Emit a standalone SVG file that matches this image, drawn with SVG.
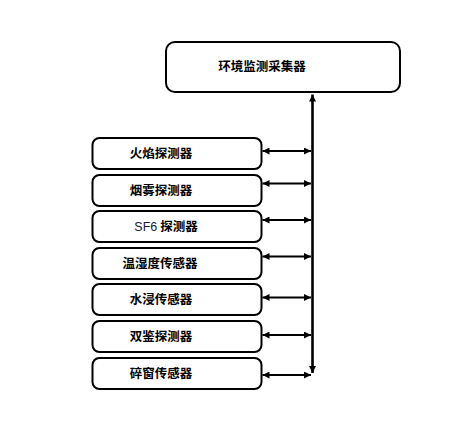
<svg xmlns="http://www.w3.org/2000/svg" width="466" height="432" viewBox="0 0 466 432">
<style>
.box{fill:#fff;stroke:#000;stroke-width:2}
.t{font-family:"Noto Sans CJK SC","Liberation Sans",sans-serif;font-size:12.5px;font-weight:bold;fill:#000;text-anchor:middle}
.c{stroke:#000;stroke-width:2;fill:none}
.v{stroke:#000;stroke-width:2.6;fill:none}
</style>
<defs>
<marker id="ah" viewBox="0 0 10 10" refX="10" refY="5" markerWidth="9" markerHeight="7" markerUnits="userSpaceOnUse" orient="auto-start-reverse">
<path d="M0,0 L10,5 L0,10 z" fill="#000"/>
</marker>
</defs>
<rect width="466" height="432" fill="#fff"/>
<g id="collector"><rect class="box" x="166" y="42" width="234" height="50" rx="9"/><text class="t" x="262" y="71">环境监测采集器</text></g>
<g id="n1"><rect class="box" x="92.5" y="138" width="169" height="31" rx="7"/><text class="t" x="161" y="158">火焰探测器</text></g>
<g id="n2"><rect class="box" x="92.5" y="175" width="169" height="31" rx="7"/><text class="t" x="161" y="195">烟雾探测器</text></g>
<g id="n3"><rect class="box" x="92.5" y="211" width="169" height="31" rx="7"/><text class="t" x="166" y="231"><tspan font-weight="normal" font-family="Liberation Sans, sans-serif" fill="#1a1a33">SF6</tspan> 探测器</text></g>
<g id="n4"><rect class="box" x="92.5" y="248" width="169" height="31" rx="7"/><text class="t" x="160" y="268">温湿度传感器</text></g>
<g id="n5"><rect class="box" x="92.5" y="284" width="169" height="31" rx="7"/><text class="t" x="161" y="304">水浸传感器</text></g>
<g id="n6"><rect class="box" x="92.5" y="321" width="169" height="31" rx="7"/><text class="t" x="161" y="341">双鉴探测器</text></g>
<g id="n7"><rect class="box" x="92.5" y="358" width="169" height="31" rx="7"/><text class="t" x="161" y="378">碎窗传感器</text></g>
<g id="connectors">
<path class="v" d="M312.5,373 L312.5,94.5" marker-start="url(#ah)" marker-end="url(#ah)"/>
<path class="c" d="M262.5,151 L311,151" marker-start="url(#ah)" marker-end="url(#ah)"/>
<path class="c" d="M262.5,183.5 L311,183.5" marker-start="url(#ah)" marker-end="url(#ah)"/>
<path class="c" d="M262.5,220 L311,220" marker-start="url(#ah)" marker-end="url(#ah)"/>
<path class="c" d="M262.5,256.5 L311,256.5" marker-start="url(#ah)" marker-end="url(#ah)"/>
<path class="c" d="M262.5,297.5 L311,297.5" marker-start="url(#ah)" marker-end="url(#ah)"/>
<path class="c" d="M262.5,335 L311,335" marker-start="url(#ah)" marker-end="url(#ah)"/>
<path class="c" d="M262.5,375 L311,375" marker-start="url(#ah)" marker-end="url(#ah)"/>
</g>
</svg>
